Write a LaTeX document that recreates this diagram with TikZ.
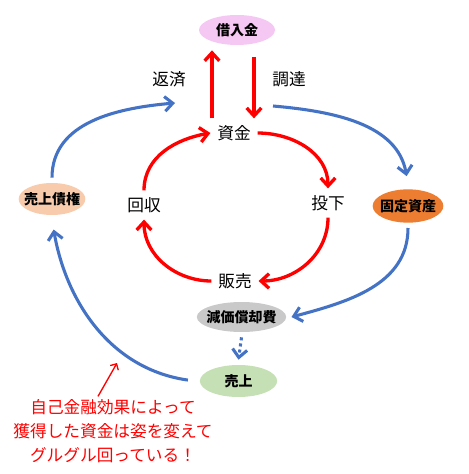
\documentclass[tikz,border=0pt]{standalone}
\usepackage{fontspec}
\setmainfont{Noto Sans CJK JP}
\usepackage{xcolor}
\usetikzlibrary{arrows.meta,shapes.geometric}
\definecolor{loanPink}{HTML}{F5C8F3}
\definecolor{recvPeach}{HTML}{F8CBAD}
\definecolor{assetOrange}{HTML}{ED7D31}
\definecolor{deprGray}{HTML}{C9C9C9}
\definecolor{salesGreen}{HTML}{C5E0B4}
\definecolor{flowBlue}{HTML}{4472C4}
\tikzset{
blob/.style = {ellipse, fill=#1, inner sep=-5pt, outer sep=4pt,
               font=\fontsize{10.5pt}{12pt}\selectfont\bfseries},
blob/.default = deprGray
}
\tikzset{
lbl/.style = {inner sep=5pt, font=\fontsize{12.5pt}{14pt}\selectfont}
}
\tikzset{
redArrow/.style = {draw=red, line width=2.5pt,
                   -{Straight Barb[length=6pt,width=11pt]}},
blueArrow/.style = {draw=flowBlue, line width=2.3pt,
                    -{Straight Barb[length=6pt,width=11pt]}}
}

\begin{document}
\begin{tikzpicture}[x=0.75pt,y=0.75pt]
  \useasboundingbox (0,0) rectangle (468,-474);

  % Ellipses
    \node[blob=loanPink, minimum width=57pt, minimum height=22.5pt] (loan) at (237,-30) {借入金};
    \node[blob=recvPeach, minimum width=50pt, minimum height=24pt] (receivable) at (52,-199) {売上債権};
    \node[blob=assetOrange, minimum width=53pt, minimum height=25pt] (asset) at (408,-206) {固定資産};
    \node[blob=deprGray, minimum width=67pt, minimum height=22.5pt] (depreciation) at (241.5,-317) {減価償却費};
    \node[blob=salesGreen, minimum width=58pt, minimum height=24pt] (sales) at (238.5,-381) {売上};

  % Labels
    \node[lbl] (capital) at (234,-133) {資金};
    \node[lbl] (repay) at (169,-79) {返済};
    \node[lbl] (raise) at (289,-79) {調達};
    \node[lbl] (invest) at (328,-203) {投下};
    \node[lbl] (sell) at (235,-281) {販売};
    \node[lbl] (collect) at (144,-205) {回収};
    \node[align=center, text=red, inner sep=2pt, font=\fontsize{12.5pt}{18pt}\selectfont] (comment) at (113,-431)
      {自己金融効果によって\\獲得した資金は姿を変えて\\グルグル回っている！};

  % Free ends
    \coordinate (repayEnd) at (175,-103);
    \coordinate (raiseStart) at (273,-106);
    \coordinate (commentEnd) at (117,-363);

  % Lines
    \draw[redArrow] (212,0 |- capital.north) -- (212,0 |- loan.south);
    \draw[redArrow, shorten <=5pt] (254,0 |- loan.south) -- (254,0 |- capital.north);
    \draw[redArrow] (capital.east) to[out=0,in=90] (invest.north);
    \draw[redArrow] (invest.south) to[out=-90,in=0] (sell.east);
    \draw[redArrow] (sell.west) to[out=180,in=-90] (collect.south);
    \draw[redArrow] (collect.north) to[out=90,in=190] (capital.west);
    \draw[blueArrow] (receivable.north) to[out=90,in=185] (repayEnd);
    \draw[blueArrow, shorten >=6pt] (raiseStart) to[out=-5,in=100] (asset.north);
    \draw[blueArrow] (asset.south) to[out=-90,in=15] (depreciation.east);
    \draw[blueArrow, dash pattern=on 2.3pt off 2.3pt] (depreciation.south) -- (sales.north);
    \draw[blueArrow, shorten <=5pt, shorten >=7pt] (sales.west) to[out=172,in=-80] (receivable.south);
    \draw[draw=red, line width=1pt, -{Straight Barb[length=3.5pt,width=7pt]}] (98,0 |- comment.north) -- (commentEnd);
\end{tikzpicture}
\end{document}
